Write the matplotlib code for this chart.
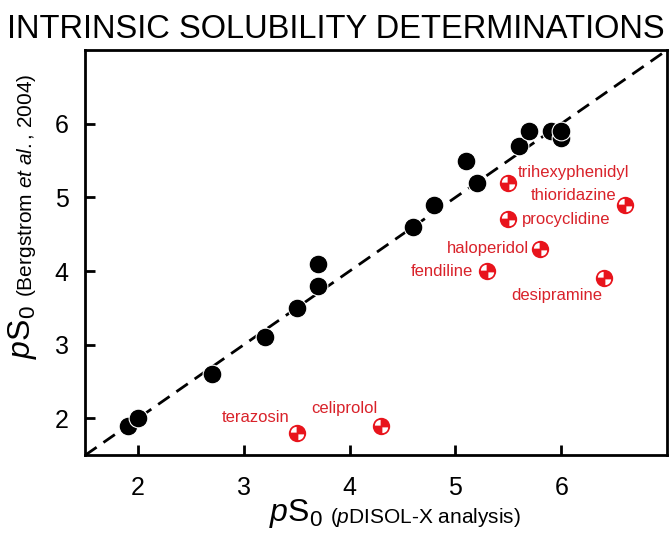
import matplotlib.pyplot as plt
from matplotlib.path import Path
import numpy as np

plt.rcParams['font.family'] = ['Liberation Sans', 'DejaVu Sans']
plt.rcParams['mathtext.fontset'] = 'custom'
plt.rcParams['mathtext.rm'] = 'Liberation Sans'
plt.rcParams['mathtext.it'] = 'Liberation Sans:italic'

# pS0 values: pDISOL-X (x) vs Bergstrom 2004 (y)
black_x = [1.9, 2.0, 2.7, 3.2, 3.5, 3.7, 3.7, 4.6, 4.8, 5.1, 5.2, 5.6, 5.7, 5.9, 6.0, 6.0]
black_y = [1.9, 2.0, 2.6, 3.1, 3.5, 3.8, 4.1, 4.6, 4.9, 5.5, 5.2, 5.7, 5.9, 5.9, 5.8, 5.9]

red_names = ["trihexyphenidyl", "thioridazine", "procyclidine", "haloperidol",
             "fendiline", "desipramine", "terazosin", "celiprolol"]
red_x = [5.5, 6.6, 5.5, 5.8, 5.3, 6.4, 3.5, 4.3]
red_y = [5.2, 4.9, 4.7, 4.3, 4.0, 3.9, 1.8, 1.9]
# label offsets (points) and alignment
label_pos = [(7, 7, 'left'), (-6, 7, 'right'), (10, 0, 'left'), (-8, 0, 'right'),
             (-10, 0, 'right'), (-1, -12.5, 'right'), (-5, 11.5, 'right'), (-3, 12.5, 'right')]

# red circle with two white quarters (holes drawn clockwise)
def quarter(cx, cy, r, a0, a1):
    t = np.linspace(np.radians(a1), np.radians(a0), 12)
    pts = [(cx, cy)] + [(cx + r * np.cos(a), cy + r * np.sin(a)) for a in t] + [(cx, cy)]
    codes = [Path.MOVETO] + [Path.LINETO] * (len(pts) - 2) + [Path.CLOSEPOLY]
    return Path(pts, codes)

quad_marker = Path.make_compound_path(Path.unit_circle(),
                                      quarter(-0.1, 0.1, 0.66, 90, 180),
                                      quarter(0.1, -0.1, 0.66, 270, 360))

fig = plt.figure(figsize=(6.71, 5.33), dpi=100)
ax = fig.add_axes([0.127, 0.146, 0.867, 0.76])

ax.plot([1.5, 7], [1.5, 7], color='black', lw=2, ls=(0, (5, 3)), zorder=1)
ax.plot(black_x, black_y, 'o', color='black', markersize=13.5, markeredgecolor='white',
        markeredgewidth=0.8, zorder=3)
ax.plot(red_x, red_y, ls='none', marker=quad_marker, color='#e8141c', markersize=12.5,
        markeredgewidth=0, zorder=3)

for name, x, y, (dx, dy, ha) in zip(red_names, red_x, red_y, label_pos):
    ax.annotate(name, (x, y), xytext=(dx, dy), textcoords='offset points',
                ha=ha, va='center', color='#d9222a', fontsize=12)

ax.set_xlim(1.5, 7)
ax.set_ylim(1.5, 7)
ax.set_xticks([2, 3, 4, 5, 6])
ax.set_yticks([2, 3, 4, 5, 6])
ax.tick_params(direction='in', length=7, width=2, labelsize=18)
ax.tick_params(axis='x', pad=15)
ax.tick_params(axis='y', pad=12)
for s in ax.spines.values():
    s.set_linewidth(2)

fig.text(0.5, 0.944, "INTRINSIC SOLUBILITY DETERMINATIONS", ha='center', va='center',
         fontsize=23.5)

# axis labels
fig.text(0.481, 0.036, r"$p\mathrm{S}_0$", ha='right', va='center', fontsize=23)
fig.text(0.492, 0.030, r"($\mathit{p}$DISOL-X analysis)", ha='left', va='center', fontsize=15)
fig.text(0.033, 0.428, r"$p\mathrm{S}_0$", ha='center', va='top', rotation=90, fontsize=23)
fig.text(0.040, 0.443, r"(Bergstrom $\mathit{et\ al.}$, 2004)", ha='center', va='bottom',
         rotation=90, fontsize=15)

fig.savefig("out.png", dpi=100)
